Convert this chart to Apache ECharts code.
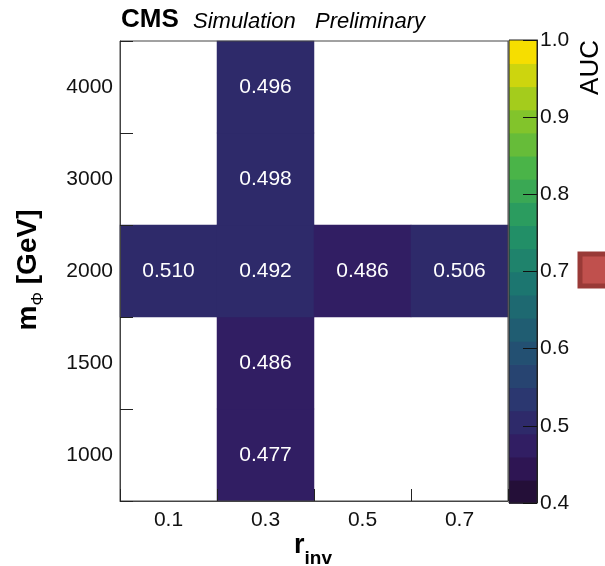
<!DOCTYPE html>
<html><head><meta charset="utf-8">
<script src="https://cdn.jsdelivr.net/npm/echarts@6/dist/echarts.min.js"></script>
<style>html,body{margin:0;padding:0;background:#fff}#c{width:605px;height:566px}</style>
</head><body><div id="c"></div>
<script>
// ---- data ----
const rInv = ['0.1', '0.3', '0.5', '0.7'];
const mPhi = ['1000', '1500', '2000', '3000', '4000'];
// [rInv index, mPhi index, AUC]
const aucCells = [
  [1, 0, 0.477],
  [1, 1, 0.486],
  [0, 2, 0.510], [1, 2, 0.492], [2, 2, 0.486], [3, 2, 0.506],
  [1, 3, 0.498],
  [1, 4, 0.496]
];
// colour-bar contour levels (20 bands between 0.4 and 1.0)
const zLevels = [0.40, 0.43, 0.46, 0.49, 0.52, 0.55, 0.58, 0.61, 0.64, 0.67, 0.70,
                 0.73, 0.76, 0.79, 0.82, 0.85, 0.88, 0.91, 0.94, 0.97, 1.00];
const zTickLabels = ['0.4', '0.5', '0.6', '0.7', '0.8', '0.9', '1.0'];

// ---- palette (ROOT kViridis gradient) ----
const pStops = [0, 0.125, 0.25, 0.375, 0.5, 0.625, 0.75, 0.875, 1];
const pR = [26, 51, 43, 33, 28, 35, 74, 144, 246];
const pG = [9, 24, 55, 87, 118, 150, 180, 200, 222];
const pB = [30, 96, 112, 114, 112, 101, 72, 35, 0];
function gradient(f) {
  f = Math.max(0, Math.min(1, f));
  let k = 0;
  while (k < pStops.length - 2 && f > pStops[k + 1]) k++;
  const t = (f - pStops[k]) / (pStops[k + 1] - pStops[k]);
  const c = (a) => Math.round(a[k] + (a[k + 1] - a[k]) * t);
  return 'rgb(' + c(pR) + ',' + c(pG) + ',' + c(pB) + ')';
}
const nBands = zLevels.length - 1;
const pieces = [];
const barData = [];
for (let i = 0; i < nBands; i++) {
  const lo = zLevels[i], hi = zLevels[i + 1];
  pieces.push({ gte: lo, lt: hi + (i === nBands - 1 ? 1e-9 : 0), color: gradient((i + 0.99) / nBands) });
  barData.push([lo, hi, (lo + hi) / 2]);
}

const FONT = '"Liberation Sans", Arial, Helvetica, sans-serif';
const chart = echarts.init(document.getElementById('c'), null, { renderer: 'canvas' });
chart.setOption({
  animation: false,
  backgroundColor: '#fff',
  textStyle: { fontFamily: FONT },
  grid: [
    { left: 120, top: 41, width: 388, height: 460, show: true, borderColor: '#444', borderWidth: 1, backgroundColor: 'transparent', z: 3 },
    { left: 509, top: 40, width: 28, height: 463, show: true, borderColor: '#222', borderWidth: 1, backgroundColor: 'transparent', z: 3 }
  ],
  xAxis: [
    {
      type: 'category', data: rInv, gridIndex: 0, z: 5,
      axisLine: { show: true, lineStyle: { color: '#444', width: 1 } },
      axisTick: { show: true, inside: true, length: 12, alignWithLabel: false, lineStyle: { color: '#222' } },
      axisLabel: { fontSize: 21, color: '#111', margin: 9, fontFamily: FONT },
      splitLine: { show: false }, splitArea: { show: false }
    },
    { type: 'value', gridIndex: 1, min: 0, max: 1, show: false }
  ],
  yAxis: [
    {
      type: 'category', data: mPhi, gridIndex: 0, z: 5,
      axisLine: { show: true, lineStyle: { color: '#444', width: 1 } },
      axisTick: { show: true, inside: true, length: 13, alignWithLabel: false, lineStyle: { color: '#222' } },
      axisLabel: { fontSize: 21, color: '#111', margin: 7, fontFamily: FONT },
      splitLine: { show: false }, splitArea: { show: false }
    },
    {
      type: 'value', gridIndex: 1, min: 0.4, max: 1.0, interval: 0.1, position: 'right', z: 5,
      axisLine: { show: true, onZero: false, lineStyle: { color: '#222', width: 1 } },
      axisTick: { show: true, inside: true, length: 14, lineStyle: { color: '#111' } },
      axisLabel: {
        fontSize: 21, color: '#111', margin: 3, fontFamily: FONT,
        formatter: (v) => { const s = v.toFixed(1); return zTickLabels.indexOf(s) >= 0 ? s : ''; }
      },
      splitLine: { show: false }
    }
  ],
  visualMap: {
    type: 'piecewise', show: false, dimension: 2, seriesIndex: [0, 1], pieces: pieces
  },
  series: [
    {
      type: 'heatmap', xAxisIndex: 0, yAxisIndex: 0, data: aucCells,
      label: {
        show: true, color: '#fff', fontSize: 21, fontFamily: FONT,
        formatter: (p) => p.value[2].toFixed(3)
      },
      itemStyle: { borderWidth: 0 },
      emphasis: { disabled: true }
    },
    {
      type: 'custom', xAxisIndex: 1, yAxisIndex: 1, data: barData,
      encode: { x: -1, y: [0, 1] },
      renderItem: function (params, api) {
        const p1 = api.coord([0, api.value(1)]);
        const p2 = api.coord([1, api.value(0)]);
        return {
          type: 'rect',
          shape: { x: p1[0], y: p1[1], width: p2[0] - p1[0], height: p2[1] - p1[1] + 0.8 },
          style: { fill: api.visual('color') }
        };
      },
      silent: true
    }
  ],
  graphic: [
    { type: 'text', x: 121, y: 20, style: { text: 'CMS', font: 'bold 26px ' + FONT, fill: '#000', align: 'left', verticalAlign: 'middle' } },
    { type: 'text', x: 193, y: 22, style: { text: 'Simulation', font: 'italic 22px ' + FONT, fill: '#000', align: 'left', verticalAlign: 'middle' } },
    { type: 'text', x: 315, y: 22, style: { text: 'Preliminary', font: 'italic 22px ' + FONT, fill: '#000', align: 'left', verticalAlign: 'middle' } },
    {
      type: 'text', x: 313, y: 546,
      style: {
        text: '{r|r}{s|inv}', align: 'center', verticalAlign: 'middle', fill: '#000',
        rich: {
          r: { fontSize: 27, fontWeight: 'bold', fontFamily: FONT, lineHeight: 44, verticalAlign: 'middle' },
          s: { fontSize: 19, fontWeight: 'bold', fontFamily: FONT, lineHeight: 19, verticalAlign: 'bottom' }
        }
      }
    },
    {
      type: 'text', x: 28, y: 270, rotation: Math.PI / 2,
      style: {
        text: '{m|m}{s|Φ}{m| [GeV]}', align: 'center', verticalAlign: 'middle', fill: '#000',
        rich: {
          m: { fontSize: 28, fontWeight: 'bold', fontFamily: FONT, lineHeight: 38, verticalAlign: 'middle' },
          s: { fontSize: 17, fontFamily: FONT, lineHeight: 17, verticalAlign: 'bottom' }
        }
      }
    },
    { type: 'text', x: 591, y: 40, rotation: Math.PI / 2, style: { text: 'AUC', font: '26px ' + FONT, fill: '#000', align: 'right', verticalAlign: 'middle' } },
    { type: 'rect', x: 580, y: 254, shape: { x: 0, y: 0, width: 40, height: 32 }, style: { fill: '#c0504d', stroke: '#993a37', lineWidth: 5 } }
  ]
});
</script>
</body></html>
